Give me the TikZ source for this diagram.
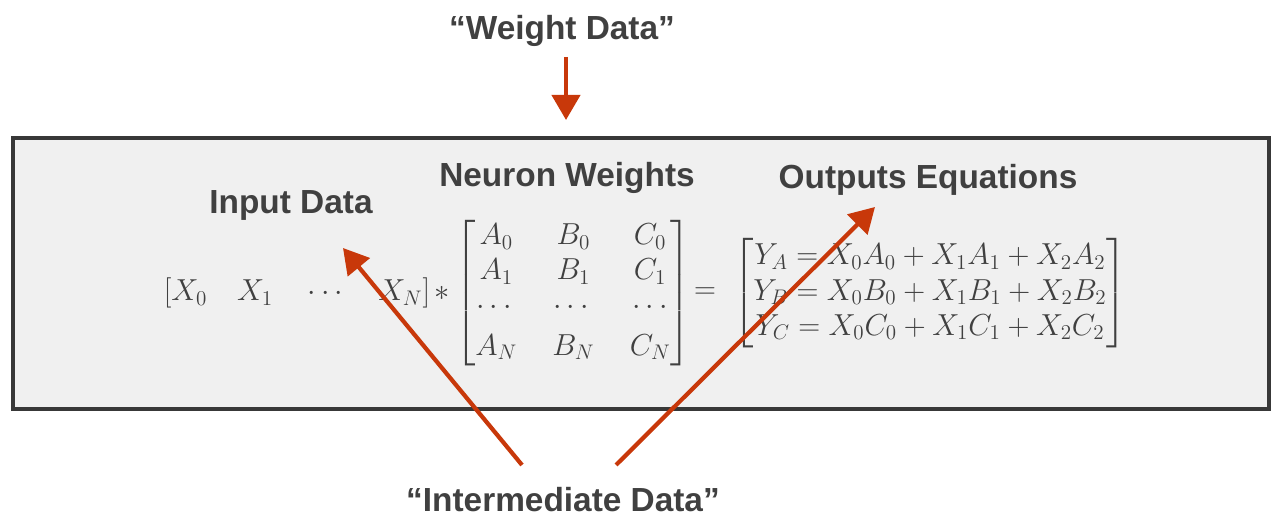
\documentclass[tikz,border=0pt]{standalone}
\usepackage{amsmath}
\usepackage{fontspec}
\setmainfont{Liberation Sans}
\usepackage{xcolor}
\usetikzlibrary{arrows.meta}

\definecolor{arrowred}{RGB}{200,56,10}
\definecolor{textgray}{RGB}{64,64,64}
\definecolor{framegray}{RGB}{56,56,56}
\definecolor{panelgray}{RGB}{240,240,240}

\begin{document}
\begin{tikzpicture}[
    x=1cm,
    y=1cm,
    label/.style={
        text=textgray,
        font=\fontsize{19}{22}\selectfont\bfseries,
        inner sep=0pt
    },
    formula/.style={
        text=textgray,
        font=\fontsize{17}{20}\selectfont,
        inner sep=0pt
    },
    pointer/.style={
        draw=arrowred,
        line width=2.4pt,
        -{Triangle[width=0.56cm,length=0.5cm]}
    }
]

\useasboundingbox (0,0) rectangle (25.42,-10.34);

% panel
\draw[line width=2pt, draw=framegray, fill=panelgray]
    (0.26,-2.76) rectangle (25.38,-8.18);

% labels
\node[label] (weight) at (11.24,-0.62) {``Weight Data''};
\node[label] (input) at (5.82,-4.10) {Input Data};
\node[label] (neuron) at (11.34,-3.56) {Neuron Weights};
\node[label] (outputs) at (18.56,-3.60) {Outputs Equations};
\node[label] (inter) at (11.26,-10.0) {``Intermediate Data''};

% equation
\node[formula] (rowvec) at (5.94,-5.86)
    {$[X_0 \quad X_1 \quad \cdots \quad X_N]$};
\node[formula] (star) at (8.84,-5.86) {$*$};
\node[formula] (lmat) at (11.46,-5.86)
    {\setlength{\arraycolsep}{10pt}$\begin{bmatrix}
        A_0 & B_0 & C_0\\
        A_1 & B_1 & C_1\\
        \cdots & \cdots & \cdots\\[3pt]
        A_N & B_N & C_N
    \end{bmatrix}$};
\node[formula] (eq) at (14.10,-5.86) {$=$};
\node[formula] (rmat) at (18.60,-5.86)
    {$\begin{bmatrix}
        Y_A = X_0A_0 + X_1A_1 + X_2A_2\\
        Y_B = X_0B_0 + X_1B_1 + X_2B_2\\
        Y_C = X_0C_0 + X_1C_1 + X_2C_2
    \end{bmatrix}$};

% arrow ends
\coordinate (weighttail) at (11.32,-1.14);
\coordinate (weighthead) at (11.32,-2.40);
\coordinate (lefttail) at (10.44,-9.30);
\coordinate (lefthead) at (6.86,-4.96);
\coordinate (righttail) at (12.32,-9.30);
\coordinate (righthead) at (17.50,-4.14);

\draw[pointer] (weighttail) -- (weighthead);
\draw[pointer] (lefttail) -- (lefthead);
\draw[pointer] (righttail) -- (righthead);

\end{tikzpicture}
\end{document}
